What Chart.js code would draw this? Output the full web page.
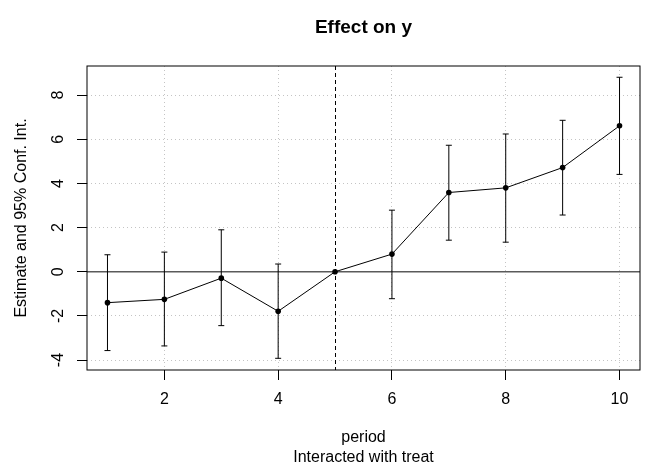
<!DOCTYPE html>
<html>
<head>
<meta charset="utf-8">
<script src="https://cdn.jsdelivr.net/npm/chart.js@4.4.1/dist/chart.umd.min.js"></script>
<style>
  body { margin: 0; background: #fff; }
  canvas { display: block; }
</style>
</head>
<body>
<canvas id="myChart" width="655" height="470"></canvas>
<script>
var periods = [1, 2, 3, 4, 5, 6, 7, 8, 9, 10];
var estimates = [-1.40, -1.25, -0.29, -1.79, 0, 0.80, 3.59, 3.80, 4.72, 6.61];
var ciLow = [-3.57, -3.36, -2.44, -3.92, null, -1.22, 1.43, 1.34, 2.57, 4.41];
var ciHigh = [0.77, 0.89, 1.90, 0.35, null, 2.79, 5.73, 6.24, 6.86, 8.81];
var xTicks = [2, 4, 6, 8, 10];
var yTicks = [-4, -2, 0, 2, 4, 6, 8];
var refPeriod = 5;

var FONT = "'Liberation Sans', Arial, Helvetica, sans-serif";

// error bars: low -> high segments separated by gaps
var ciPoints = [];
periods.forEach(function (p, i) {
    if (ciLow[i] === null) return;
    ciPoints.push({x: p, y: ciLow[i]});
    ciPoints.push({x: p, y: ciHigh[i]});
    ciPoints.push({x: p, y: null});
});

var refLines = {
    id: 'refLines',
    beforeDatasetsDraw: function (chart) {
        var ctx = chart.ctx, a = chart.chartArea;
        var xs = chart.scales.x, ys = chart.scales.y;
        ctx.save();
        // zero line
        var y0 = ys.getPixelForValue(0);
        ctx.strokeStyle = '#5a5a5a';
        ctx.lineWidth = 1.4;
        ctx.beginPath();
        ctx.moveTo(a.left, y0);
        ctx.lineTo(a.right, y0);
        ctx.stroke();
        // reference period
        var x5 = Math.round(xs.getPixelForValue(refPeriod)) + 0.5;
        ctx.strokeStyle = '#000';
        ctx.lineWidth = 1;
        ctx.setLineDash([4, 3]);
        ctx.beginPath();
        ctx.moveTo(x5, a.top);
        ctx.lineTo(x5, a.bottom);
        ctx.stroke();
        ctx.restore();
    },
    afterDraw: function (chart) {
        var ctx = chart.ctx, a = chart.chartArea;
        var ys = chart.scales.y;
        ctx.save();
        ctx.strokeStyle = '#000';
        ctx.lineWidth = 1;
        ctx.strokeRect(a.left, a.top, a.right - a.left, a.bottom - a.top);
        // rotated y tick labels (R style)
        ctx.fillStyle = '#000';
        ctx.font = '16px ' + FONT;
        ctx.textAlign = 'center';
        ctx.textBaseline = 'middle';
        ys.ticks.forEach(function (t) {
            ctx.save();
            ctx.translate(59, ys.getPixelForValue(t.value));
            ctx.rotate(-Math.PI / 2);
            ctx.fillText(String(t.value), 0, 0);
            ctx.restore();
        });
        ctx.restore();
    }
};

var ctx = document.getElementById('myChart').getContext('2d');
var myChart = new Chart(ctx, {
    type: 'line',
    data: {
        datasets: [{
            label: 'estimate',
            data: periods.map(function (p, i) { return {x: p, y: estimates[i]}; }),
            borderColor: '#000',
            backgroundColor: '#000',
            borderWidth: 1,
            pointRadius: 2.8,
            pointBorderWidth: 0
        },
        {
            label: 'ci',
            data: ciPoints,
            borderColor: '#000',
            borderWidth: 1,
            spanGaps: false,
            pointStyle: 'line',
            pointRadius: 3,
            pointBorderColor: '#000',
            pointBorderWidth: 1
        }]
    },
    options: {
        responsive: false,
        animation: false,
        devicePixelRatio: 1,
        layout: { padding: { left: 0, right: 15, top: 0, bottom: 0 } },
        plugins: {
            legend: { display: false },
            tooltip: { enabled: false },
            title: {
                display: true,
                fullSize: false,
                text: 'Effect on y',
                color: '#000',
                font: { family: FONT, size: 19, weight: 'bold' },
                padding: { top: 16.6, bottom: 26.6 }
            }
        },
        scales: {
            x: {
                type: 'linear',
                min: 0.64,
                max: 10.36,
                afterBuildTicks: function (s) { s.ticks = xTicks.map(function (v) { return {value: v}; }); },
                afterFit: function (s) { s.height = 100; },
                ticks: {
                    color: '#000',
                    font: { family: FONT, size: 16 },
                    padding: 10,
                    maxRotation: 0
                },
                grid: {
                    color: '#c4c4c4',
                    tickColor: '#000',
                    tickLength: 10,
                    tickBorderDash: []
                },
                border: { display: false, dash: [1, 3] },
                title: {
                    display: true,
                    text: ['period', 'Interacted with treat'],
                    color: '#000',
                    font: { family: FONT, size: 16 },
                    padding: { top: 0, bottom: 3.2 }
                }
            },
            y: {
                type: 'linear',
                min: -4.45,
                max: 9.32,
                afterBuildTicks: function (s) { s.ticks = yTicks.map(function (v) { return {value: v}; }); },
                afterFit: function (s) { s.width = 87; },
                ticks: { display: false },
                grid: {
                    color: '#c4c4c4',
                    tickColor: '#000',
                    tickLength: 10,
                    tickBorderDash: []
                },
                border: { display: false, dash: [1, 3] },
                title: {
                    display: true,
                    text: 'Estimate and 95% Conf. Int.',
                    color: '#000',
                    font: { family: FONT, size: 16 },
                    padding: { top: 12.4, bottom: 0 }
                }
            }
        }
    },
    plugins: [refLines]
});
</script>
</body>
</html>
